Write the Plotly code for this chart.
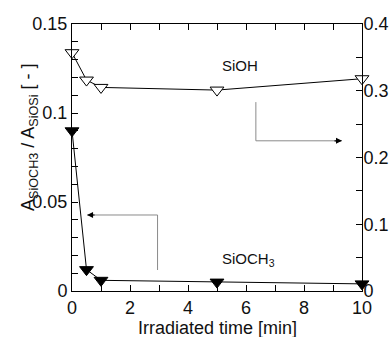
import plotly.graph_objects as go

time_min = [0, 0.5, 1, 5, 10]
sioch3 = [0.0900, 0.0120, 0.0060, 0.0050, 0.0040]
sioh = [0.357, 0.316, 0.305, 0.301, 0.318]

x_ticks = [0, 2, 4, 6, 8, 10]
y1_ticks = [0, 0.05, 0.1, 0.15]
y1_labels = ["0", "0.05", "0.1", "0.15"]
y2_ticks = [0, 0.1, 0.2, 0.3, 0.4]
y2_labels = ["0", "0.1", "0.2", "0.3", "0.4"]

# guide arrows (x, y in data units)
left_arrow_x = [2.95, 2.95, 0.52]
left_arrow_y = [0.0118, 0.0427, 0.0427]
right_arrow_x = [6.34, 6.34, 9.31]
right_arrow_y = [0.283, 0.225, 0.225]

FONT = "Liberation Sans, Arial, sans-serif"
TXT = "#111111"

fig = go.Figure()
fig.add_trace(go.Scatter(
    x=time_min, y=sioch3, mode="lines+markers", yaxis="y", cliponaxis=False,
    line=dict(color="black", width=1),
    marker=dict(symbol="triangle-down", size=12, color="black",
                line=dict(color="black", width=1)),
    showlegend=False))
fig.add_trace(go.Scatter(
    x=time_min, y=sioh, mode="lines+markers", yaxis="y2", cliponaxis=False,
    line=dict(color="black", width=1),
    marker=dict(symbol="triangle-down", size=12, color="white",
                line=dict(color="black", width=1)),
    showlegend=False))

# guide lines
fig.add_trace(go.Scatter(x=left_arrow_x, y=left_arrow_y, mode="lines", yaxis="y",
                         line=dict(color="#8a8a8a", width=1), showlegend=False,
                         hoverinfo="skip"))
fig.add_trace(go.Scatter(x=right_arrow_x, y=right_arrow_y, mode="lines", yaxis="y2",
                         line=dict(color="#8a8a8a", width=1), showlegend=False,
                         hoverinfo="skip"))

# arrowheads
fig.add_annotation(x=left_arrow_x[-1], y=left_arrow_y[-1], xref="x", yref="y",
                   ax=9, ay=0, text="", showarrow=True, arrowhead=2,
                   arrowsize=1, arrowwidth=1.2, arrowcolor="black")
fig.add_annotation(x=right_arrow_x[-1], y=right_arrow_y[-1], xref="x", yref="y2",
                   ax=-9, ay=0, text="", showarrow=True, arrowhead=2,
                   arrowsize=1, arrowwidth=1.2, arrowcolor="black")

fig.add_annotation(x=5.8, y=0.338, xref="x", yref="y2", text="SiOH",
                   showarrow=False, font=dict(family=FONT, size=15, color=TXT))
fig.add_annotation(x=6.1, y=0.0175, xref="x", yref="y", text="SiOCH<sub>3</sub>",
                   showarrow=False, font=dict(family=FONT, size=15, color=TXT))

# axis titles
fig.add_annotation(x=0.5, y=-0.137, xref="paper", yref="paper",
                   xanchor="center", yanchor="middle",
                   text="Irradiated time [min]", showarrow=False,
                   font=dict(family=FONT, size=18, color=TXT))
fig.add_annotation(x=-0.145, y=0.577, xref="paper", yref="paper", textangle=-90,
                   xanchor="center", yanchor="middle",
                   text="A<sub>SiOCH3</sub> / A<sub>SiOSi</sub> [ - ]", showarrow=False,
                   font=dict(family=FONT, size=18, color=TXT))

axis_common = dict(showline=True, linecolor="black", linewidth=1, automargin=False,
                   ticks="inside", ticklen=6, tickcolor="black", tickwidth=1,
                   showgrid=False, zeroline=False,
                   tickfont=dict(family=FONT, size=18, color=TXT))

fig.update_layout(
    width=389, height=337,
    margin=dict(l=72, r=27, t=24, b=46),
    paper_bgcolor="white", plot_bgcolor="white",
    xaxis=dict(range=[0, 10], tickvals=x_ticks, mirror="allticks", ticklabelstandoff=0,
               minor=dict(dtick=1, ticks="inside", ticklen=6, tickcolor="black"),
               **axis_common),
    yaxis=dict(range=[0, 0.15], tickvals=y1_ticks, ticktext=y1_labels,
               minor=dict(dtick=0.01, ticks="inside", ticklen=6, tickcolor="black"),
               **axis_common),
    yaxis2=dict(range=[0, 0.4], tickvals=y2_ticks, ticktext=y2_labels,
                overlaying="y", side="right", ticklabelstandoff=-3,
                minor=dict(dtick=0.05, ticks="inside", ticklen=6, tickcolor="black"),
                **axis_common),
)

fig.write_html("out.html")
